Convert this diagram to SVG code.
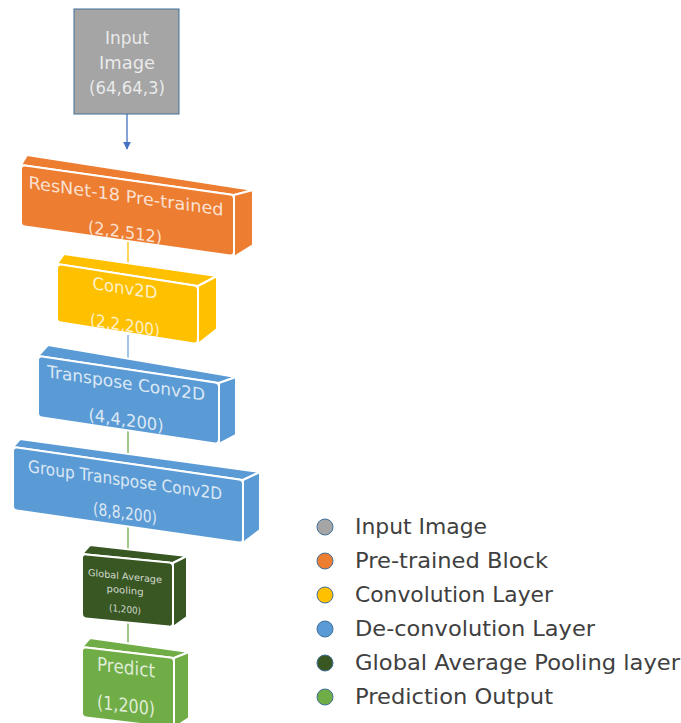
<svg xmlns="http://www.w3.org/2000/svg" width="681" height="723" viewBox="0 0 681 723">
  <defs>
    <style>
      .face{stroke:#fff;stroke-width:2;stroke-linejoin:round}
      .lbl{font-family:"DejaVu Sans","Liberation Sans",sans-serif;fill:#fff;fill-opacity:.78;text-anchor:middle}
      .leg{font-family:"DejaVu Sans","Liberation Sans",sans-serif;font-size:21px;fill:#404040}
      .dot{stroke:#41719C;stroke-width:1}
      .link{fill:none;stroke-width:1.3}
      .orange{fill:#ED7D31}
      .yellow{fill:#FFC000}
      .blue{fill:#5B9BD5}
      .dkgreen{fill:#385723}
      .green{fill:#70AD47}
      .gray{fill:#A5A5A5}
    </style>
    <marker id="arrow" viewBox="0 0 10 10" refX="9" refY="5" markerWidth="8" markerHeight="8" markerUnits="userSpaceOnUse" orient="auto">
      <path d="M0,0 L10,5 L0,10 z" fill="#4472C4"/>
    </marker>
  </defs>

  <rect width="681" height="723" fill="#fff"/>

  <!-- links between the stages -->
  <g id="connectors">
    <line class="link" x1="127" y1="114" x2="127" y2="149" stroke="#4472C4" marker-end="url(#arrow)"/>
    <line class="link" x1="128" y1="240" x2="128" y2="270" stroke="#FFC000"/>
    <line class="link" x1="128" y1="335" x2="128" y2="362" stroke="#6FA8DC"/>
    <line class="link" x1="128" y1="430" x2="128" y2="455" stroke="#70AD47"/>
    <line class="link" x1="128" y1="520" x2="128" y2="560" stroke="#70AD47"/>
    <line class="link" x1="128" y1="615" x2="128" y2="652" stroke="#70AD47"/>
  </g>

  <!-- input -->
  <g id="input">
    <rect x="74" y="9" width="105" height="105" class="gray" stroke="#41719C" stroke-width="1"/>
    <text class="lbl" font-size="18" x="127" y="44" fill-opacity=".9" textLength="44" lengthAdjust="spacingAndGlyphs">Input</text>
    <text class="lbl" font-size="18" x="127" y="69" fill-opacity=".9" textLength="56" lengthAdjust="spacingAndGlyphs">Image</text>
    <text class="lbl" font-size="18" x="127" y="94" fill-opacity=".9" textLength="76" lengthAdjust="spacingAndGlyphs">(64,64,3)</text>
  </g>

  <!-- ResNet-18 backbone -->
  <g id="resnet">
    <polygon class="face orange" points="21,165 234,195 253,190 27,155"/>
    <polygon class="face orange" points="234,195 253,190 253,245 234,257"/>
    <rect class="face orange" transform="translate(21,165) skewY(8.02)" width="213" height="61" rx="4"/>
    <text class="lbl" font-size="17" transform="translate(126,196) skewY(8.02)" y="6" textLength="195" lengthAdjust="spacingAndGlyphs">ResNet-18 Pre-trained</text>
    <text class="lbl" font-size="17" transform="translate(125,232) skewY(8.02)" y="6" textLength="74" lengthAdjust="spacingAndGlyphs">(2,2,512)</text>
  </g>

  <!-- Conv2D -->
  <g id="conv2d">
    <polygon class="face yellow" points="57,264 198,286 217,276 64,254"/>
    <polygon class="face yellow" points="198,286 217,276 217,329 198,344"/>
    <rect class="face yellow" transform="translate(57,264) skewY(8.87)" width="141" height="58" rx="4"/>
    <text class="lbl" font-size="17" transform="translate(125,288) skewY(8.87)" y="6" textLength="65" lengthAdjust="spacingAndGlyphs">Conv2D</text>
    <text class="lbl" font-size="17" transform="translate(125,325) skewY(8.87)" y="6" textLength="70" lengthAdjust="spacingAndGlyphs">(2,2,200)</text>
  </g>

  <!-- Transpose Conv2D -->
  <g id="transpose">
    <polygon class="face blue" points="38,356 219,383 236,377 48,345"/>
    <polygon class="face blue" points="219,383 236,377 236,435 219,444"/>
    <rect class="face blue" transform="translate(38,356) skewY(8.48)" width="181" height="61" rx="4"/>
    <text class="lbl" font-size="17" transform="translate(126,383) skewY(8.48)" y="6" textLength="158" lengthAdjust="spacingAndGlyphs">Transpose Conv2D</text>
    <text class="lbl" font-size="17" transform="translate(126,420) skewY(8.48)" y="6" textLength="75" lengthAdjust="spacingAndGlyphs">(4,4,200)</text>
  </g>

  <!-- Group Transpose Conv2D -->
  <g id="group-transpose">
    <polygon class="face blue" points="13,447 243,480 260,472 20,439"/>
    <polygon class="face blue" points="243,480 260,472 260,530 243,543"/>
    <rect class="face blue" transform="translate(13,447) skewY(8.17)" width="230" height="63" rx="4"/>
    <text class="lbl" font-size="17" transform="translate(125,480) skewY(8.17)" y="6" textLength="194" lengthAdjust="spacingAndGlyphs">Group Transpose Conv2D</text>
    <text class="lbl" font-size="17" transform="translate(125,513) skewY(8.17)" y="6" textLength="64" lengthAdjust="spacingAndGlyphs">(8,8,200)</text>
  </g>

  <!-- Global Average Pooling -->
  <g id="gap">
    <polygon class="face dkgreen" points="82,554 173,563 187,556 90,545"/>
    <polygon class="face dkgreen" points="173,563 187,556 187,617 173,627"/>
    <rect class="face dkgreen" transform="translate(82,554) skewY(5.65)" width="91" height="64" rx="4"/>
    <text class="lbl" font-size="9.5" transform="translate(125,576) skewY(5.65)" y="3.5" textLength="74" lengthAdjust="spacingAndGlyphs">Global Average</text>
    <text class="lbl" font-size="9.5" transform="translate(125,590) skewY(5.65)" y="3.5" textLength="37" lengthAdjust="spacingAndGlyphs">pooling</text>
    <text class="lbl" font-size="9.5" transform="translate(125,609) skewY(5.65)" y="3.5" textLength="32" lengthAdjust="spacingAndGlyphs">(1,200)</text>
  </g>

  <!-- Prediction -->
  <g id="predict">
    <polygon class="face green" points="82,647 174,658 189,652 90,638"/>
    <polygon class="face green" points="174,658 189,652 189,718 174,728"/>
    <rect class="face green" transform="translate(82,647) skewY(6.8)" width="92" height="70" rx="4"/>
    <text class="lbl" font-size="19" transform="translate(126,667) skewY(6.8)" y="7" textLength="58" lengthAdjust="spacingAndGlyphs">Predict</text>
    <text class="lbl" font-size="19" transform="translate(126,705) skewY(6.8)" y="7" textLength="58" lengthAdjust="spacingAndGlyphs">(1,200)</text>
  </g>

  <!-- key -->
  <g id="legend">
    <circle class="dot gray" cx="325" cy="527" r="8"/>
    <text class="leg" x="355" y="534" textLength="132" lengthAdjust="spacingAndGlyphs">Input Image</text>
    <circle class="dot orange" cx="325" cy="561" r="8"/>
    <text class="leg" x="355" y="568" textLength="193" lengthAdjust="spacingAndGlyphs">Pre-trained Block</text>
    <circle class="dot yellow" cx="325" cy="595" r="8"/>
    <text class="leg" x="355" y="602" textLength="198" lengthAdjust="spacingAndGlyphs">Convolution Layer</text>
    <circle class="dot blue" cx="325" cy="629" r="8"/>
    <text class="leg" x="355" y="636" textLength="240" lengthAdjust="spacingAndGlyphs">De-convolution Layer</text>
    <circle class="dot dkgreen" cx="325" cy="663" r="8"/>
    <text class="leg" x="355" y="670" textLength="325" lengthAdjust="spacingAndGlyphs">Global Average Pooling layer</text>
    <circle class="dot green" cx="325" cy="697" r="8"/>
    <text class="leg" x="355" y="704" textLength="198" lengthAdjust="spacingAndGlyphs">Prediction Output</text>
  </g>
</svg>
